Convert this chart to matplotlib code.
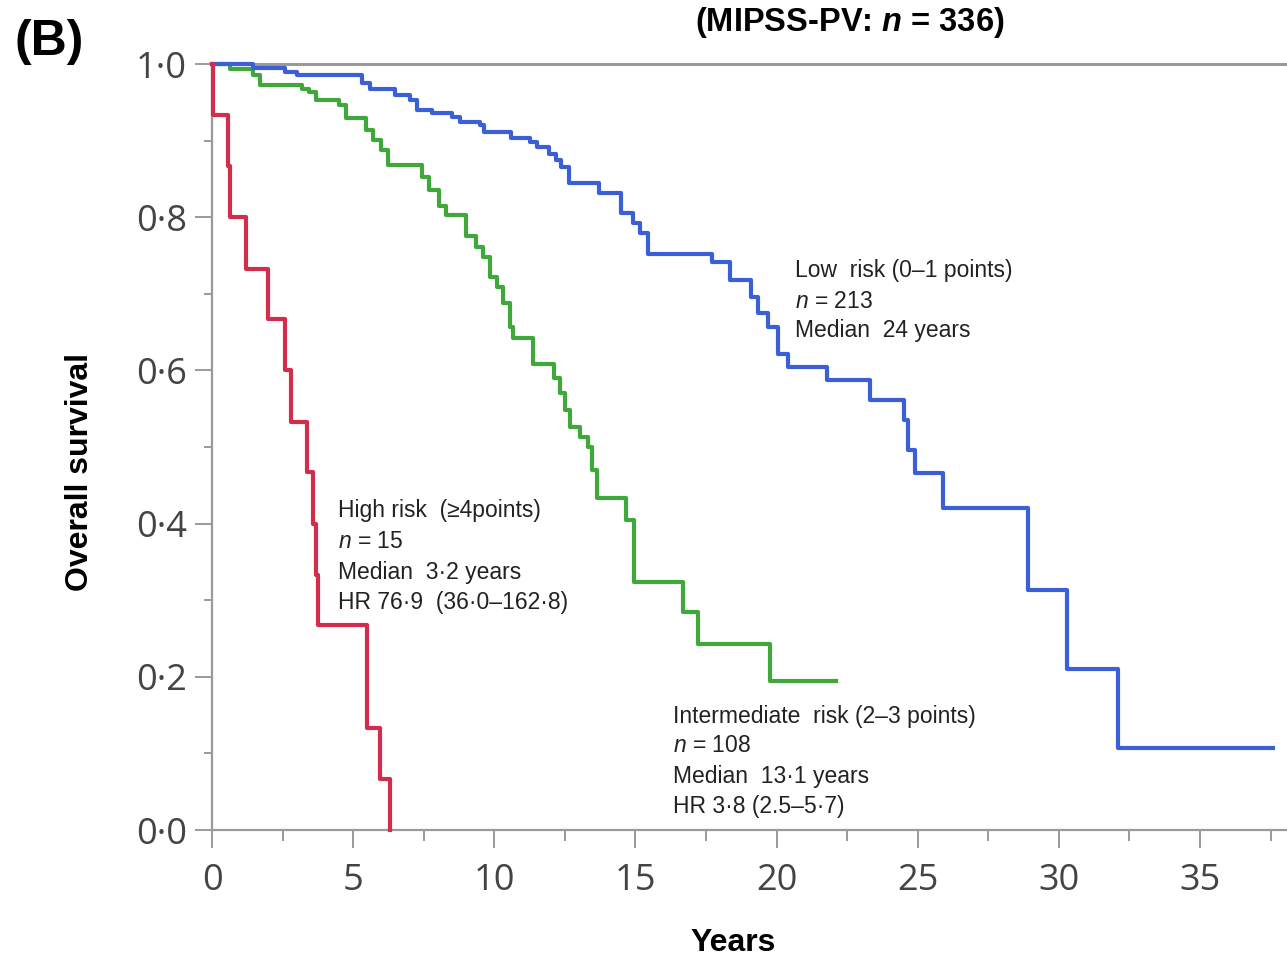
import matplotlib
matplotlib.use('Agg')
import matplotlib.pyplot as plt
from matplotlib.ticker import FixedLocator, MultipleLocator, FixedFormatter

# ---------------- data ----------------
low_t = [0.0, 1.45, 2.6, 3.0, 5.3, 5.6, 6.5, 7.0, 7.25, 7.8, 8.5, 8.8, 9.5, 9.65, 10.6,
         11.25, 11.5, 11.95, 12.2, 12.35, 12.65, 13.7, 14.5, 14.9, 15.15, 15.45, 17.7,
         18.35, 19.1, 19.35, 19.7, 20.05, 20.4, 21.8, 23.3, 24.5, 24.65, 24.9, 25.9,
         28.9, 30.3, 32.1, 37.6]
low_s = [1.0, 0.995, 0.99, 0.985, 0.975, 0.968, 0.959, 0.953, 0.940, 0.936, 0.931, 0.924,
         0.920, 0.911, 0.903, 0.898, 0.892, 0.883, 0.875, 0.866, 0.844, 0.831, 0.805,
         0.792, 0.779, 0.752, 0.742, 0.718, 0.696, 0.675, 0.657, 0.622, 0.605, 0.587,
         0.561, 0.535, 0.496, 0.466, 0.420, 0.313, 0.210, 0.107, 0.107]

int_t = [0.0, 0.65, 1.45, 1.7, 3.2, 3.45, 3.7, 4.5, 4.75, 5.45, 5.7, 6.0, 6.25, 7.45,
         7.7, 8.05, 8.3, 9.0, 9.35, 9.6, 9.85, 10.1, 10.3, 10.55, 10.67, 11.38, 12.1,
         12.33, 12.5, 12.68, 13.04, 13.33, 13.45, 13.63, 14.65, 14.95, 16.7, 17.2,
         19.75, 22.1]
int_s = [1.0, 0.994, 0.986, 0.973, 0.968, 0.963, 0.953, 0.946, 0.929, 0.914, 0.901,
         0.888, 0.868, 0.853, 0.836, 0.814, 0.803, 0.775, 0.761, 0.748, 0.722, 0.709,
         0.688, 0.657, 0.642, 0.609, 0.590, 0.570, 0.548, 0.526, 0.513, 0.500, 0.470,
         0.433, 0.405, 0.324, 0.285, 0.243, 0.195, 0.195]

high_t = [0.0, 0.05, 0.55, 0.65, 1.2, 2.0, 2.6, 2.8, 3.35, 3.58, 3.68, 3.77, 5.48, 5.95, 6.3]
high_s = [1.0, 0.933, 0.867, 0.8, 0.733, 0.667, 0.6, 0.533, 0.467, 0.4, 0.333, 0.267,
          0.133, 0.067, 0.0]

x_ticks = [0, 5, 10, 15, 20, 25, 30, 35]
x_ticklabels = ['0', '5', '10', '15', '20', '25', '30', '35']
y_ticks = [0.0, 0.2, 0.4, 0.6, 0.8, 1.0]
y_ticklabels = ['0·0', '0·2', '0·4', '0·6', '0·8', '1·0']

title_text = r'(MIPSS-PV: $\mathit{n}$ = 336)'
panel_label = '(B)'
xlabel = 'Years'
ylabel = 'Overall survival'

low_lines = ['Low  risk (0–1 points)', r'$\mathsf{n}$ = 213', 'Median  24 years']
high_lines = ['High risk  (≥4points)', r'$\mathsf{n}$ = 15', 'Median  3·2 years',
              'HR 76·9  (36·0–162·8)']
int_lines = ['Intermediate  risk (2–3 points)', r'$\mathsf{n}$ = 108', 'Median  13·1 years',
             'HR 3·8 (2.5–5·7)']

# ---------------- style ----------------
NARROW = ['Liberation Sans Narrow', 'Liberation Sans', 'DejaVu Sans']
plt.rcParams['mathtext.fontset'] = 'custom'
plt.rcParams['mathtext.it'] = 'Liberation Sans:italic:bold'
plt.rcParams['mathtext.sf'] = 'Liberation Sans:italic'
plt.rcParams['mathtext.rm'] = 'Liberation Sans'

W, H = 1287, 961
fig = plt.figure(figsize=(W / 100, H / 100), dpi=100)
fig.patch.set_facecolor('white')

x0, y_bot, y_top = 212, 830, 64
ax = fig.add_axes([x0 / W, 1 - y_bot / H, 1 - x0 / W, (y_bot - y_top) / H])
ax.set_xlim(0, (W - x0) / 28.23)
ax.set_ylim(0, 1.0)

c_red = '#d22e4c'
c_green = '#3fa83a'
c_blue = '#3b60d6'
ax.step(int_t, int_s, where='post', color=c_green, lw=3.0, zorder=3, clip_on=False)
ax.step(low_t, low_s, where='post', color=c_blue, lw=3.0, zorder=4, clip_on=False)
ax.step(high_t, high_s, where='post', color=c_red, lw=3.0, zorder=5, clip_on=False)

spine_col = '#9a9a9a'
ax.spines['right'].set_visible(False)
for k in ['left', 'bottom', 'top']:
    ax.spines[k].set_color(spine_col)
    ax.spines[k].set_linewidth(1.6)
ax.spines['top'].set_linewidth(2.2)

ax.xaxis.set_major_locator(FixedLocator(x_ticks))
ax.xaxis.set_major_formatter(FixedFormatter(x_ticklabels))
ax.xaxis.set_minor_locator(MultipleLocator(2.5))
ax.yaxis.set_major_locator(FixedLocator(y_ticks))
ax.yaxis.set_major_formatter(FixedFormatter(y_ticklabels))
ax.yaxis.set_minor_locator(MultipleLocator(0.1))

ax.tick_params(axis='x', which='major', length=13, width=1.4, color=spine_col,
               direction='out', pad=11, labelsize=26, labelcolor='#444444')
ax.tick_params(axis='x', which='minor', length=8, width=1.4, color=spine_col, direction='out')
ax.tick_params(axis='y', which='major', length=12, width=1.4, color=spine_col,
               direction='out', pad=6, labelsize=26, labelcolor='#444444')
ax.tick_params(axis='y', which='minor', length=6, width=1.4, color=spine_col, direction='out')
for lab in ax.get_xticklabels() + ax.get_yticklabels():
    lab.set_family(['Open Sans', 'DejaVu Sans'])

# titles / labels
fig.text(49 / W, 1 - 42 / H, panel_label, fontsize=36, fontweight='bold',
         family=['Liberation Sans', 'DejaVu Sans'], ha='center', va='center')
fig.text(850 / W, 1 - 22 / H, title_text, fontsize=23.5, fontweight='bold',
         family=NARROW, ha='center', va='center')
fig.text(733 / W, 1 - 943 / H, xlabel, fontsize=23, fontweight='bold',
         family=['Liberation Sans', 'DejaVu Sans'], ha='center', va='center')
fig.text(80 / W, 1 - 472 / H, ylabel, fontsize=23, fontweight='bold', rotation=90,
         family=['Liberation Sans', 'DejaVu Sans'], ha='center', va='center')

# annotations (pixel -> data)
def px2data(px, py):
    return ((px - x0) / 28.23, (y_bot - py) / (y_bot - y_top))

def block(lines, px, py0, dy):
    for i, s in enumerate(lines):
        xd, yd = px2data(px, py0 + i * dy)
        ax.text(xd, yd, s, fontsize=16.5, family=NARROW, color='#222222',
                ha='left', va='center', zorder=6)

block(low_lines, 795, 271, 30)
block(high_lines, 338, 511, 30.5)
block(int_lines, 673, 716, 30)

fig.savefig('out.png', dpi=100, facecolor='white')
